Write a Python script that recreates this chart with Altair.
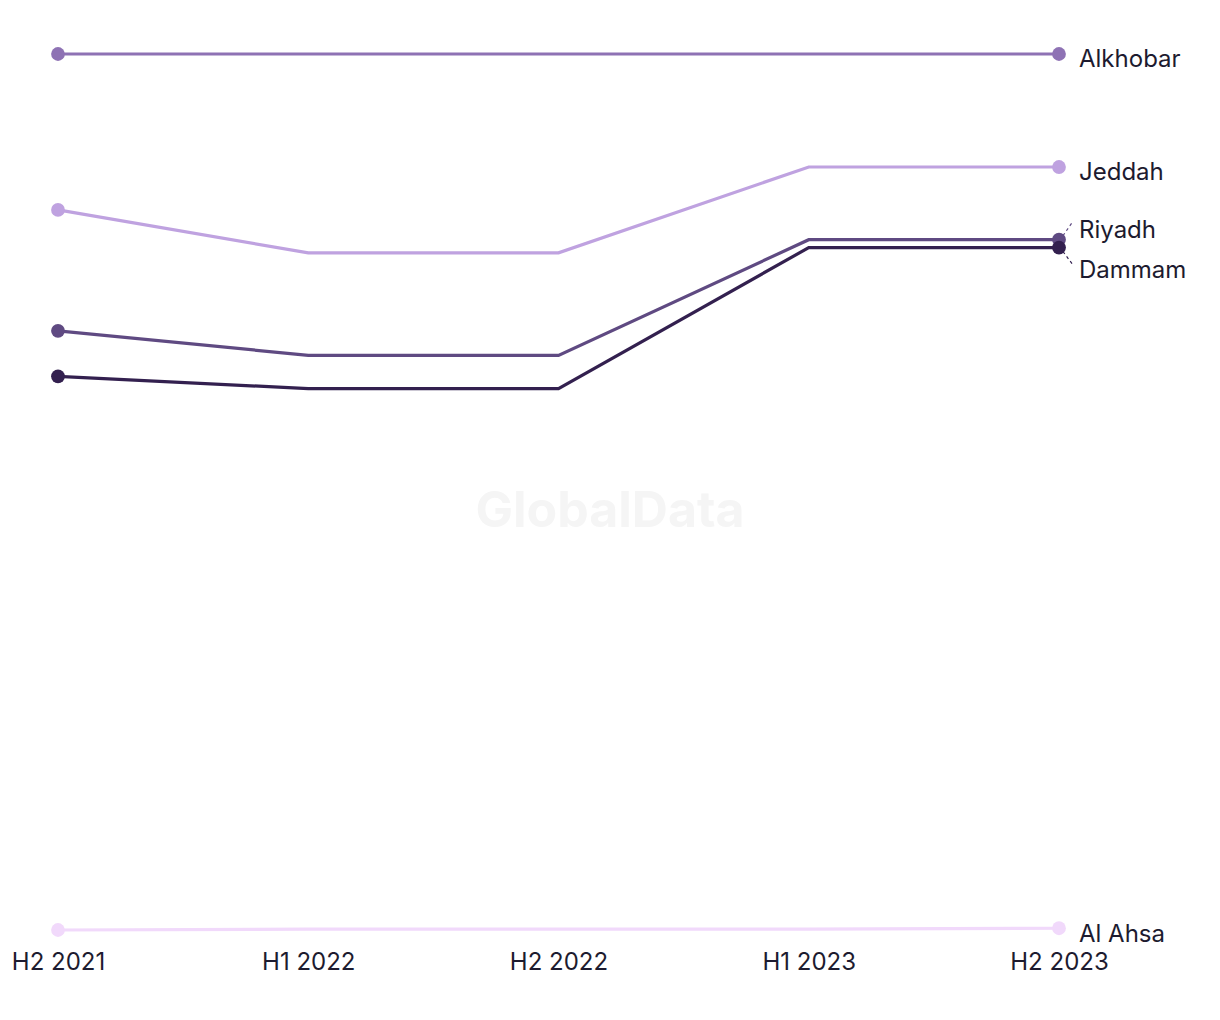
import altair as alt
import pandas as pd

periods = ["H2 2021", "H1 2022", "H2 2022", "H1 2023", "H2 2023"]
cities = ["Alkhobar", "Jeddah", "Riyadh", "Dammam", "Al Ahsa"]
alkhobar = [100.0, 100.0, 100.0, 100.0, 100.0]
jeddah = [82.2, 77.3, 77.3, 87.1, 87.1]
riyadh = [68.4, 65.6, 65.6, 78.8, 78.8]
dammam = [63.2, 61.8, 61.8, 77.9, 77.9]
al_ahsa = [0.0, 0.1, 0.1, 0.1, 0.2]
colors = ["#8e72b4", "#bfa2e0", "#5f4a82", "#33204f", "#f1d9fb"]
label_offsets = [6, 6, -9, 23, 7]

series = {"Alkhobar": alkhobar, "Jeddah": jeddah, "Riyadh": riyadh,
          "Dammam": dammam, "Al Ahsa": al_ahsa}
rows = []
for ci, c in enumerate(cities):
    for pi, p in enumerate(periods):
        rows.append({"city": c, "period": p, "value": series[c][pi], "ord": ci})
df = pd.DataFrame(rows)

lab = df[df["period"] == periods[-1]].copy()

FONT = "Inter"
TXT = "#1d1b2f"
FS = 24

xenc = alt.X("period:N", sort=periods, scale=alt.Scale(padding=0),
             axis=alt.Axis(title=None, labelAngle=0, domain=False, ticks=False,
                           grid=False, labelFontSize=FS, labelColor=TXT,
                           labelFont=FONT, labelPadding=20))
yenc = alt.Y("value:Q", scale=alt.Scale(domain=[0, 100], nice=False, zero=False),
             axis=None)
cenc = alt.Color("city:N", scale=alt.Scale(domain=cities, range=colors), legend=None)

base = alt.Chart(df)

lines = base.mark_line(strokeWidth=3.2).encode(x=xenc, y=yenc, color=cenc,
                                               order=alt.Order("ord:Q"))
points = base.transform_filter(
    alt.FieldOneOfPredicate(field="period", oneOf=[periods[0], periods[-1]])
).mark_circle(size=190, opacity=1).encode(x=xenc, y=yenc, color=cenc)

label_layers = []
for c, off in zip(cities, label_offsets):
    label_layers.append(
        alt.Chart(lab[lab["city"] == c]).mark_text(
            align="left", baseline="middle", dx=20, dy=off,
            fontSize=FS, font=FONT, color=TXT).encode(
            x=xenc, y=yenc, text="city:N"))

riy = lab[lab["city"] == "Riyadh"]
dam = lab[lab["city"] == "Dammam"]
lead_r = alt.Chart(riy).mark_rule(strokeDash=[3, 3], strokeWidth=1.2, color=colors[2],
                                  yOffset=-4, y2Offset=-17).encode(
    x=alt.value(1005), x2=alt.value(1014), y=yenc, y2="value:Q")
lead_d = alt.Chart(dam).mark_rule(strokeDash=[3, 3], strokeWidth=1.2, color=colors[3],
                                  yOffset=4, y2Offset=16).encode(
    x=alt.value(1005), x2=alt.value(1014), y=yenc, y2="value:Q")

wm = alt.Chart(pd.DataFrame({"t": ["GlobalData"]})).mark_text(
    fontSize=50, fontWeight="bold", font=FONT, color="#f5f5f5",
    align="center", baseline="middle").encode(
    text="t:N", x=alt.value(552), y=alt.value(458))

chart = alt.layer(wm, lines, points, lead_r, lead_d, *label_layers).properties(
    width=1001, height=876,
    background="white",
    autosize=alt.AutoSizeParams(type="none"),
    padding={"left": 50, "top": 46, "right": 150, "bottom": 80},
).configure_view(stroke=None).configure_axis(grid=False)

chart.save("out.html", embed_options={"renderer": "svg", "actions": False})
